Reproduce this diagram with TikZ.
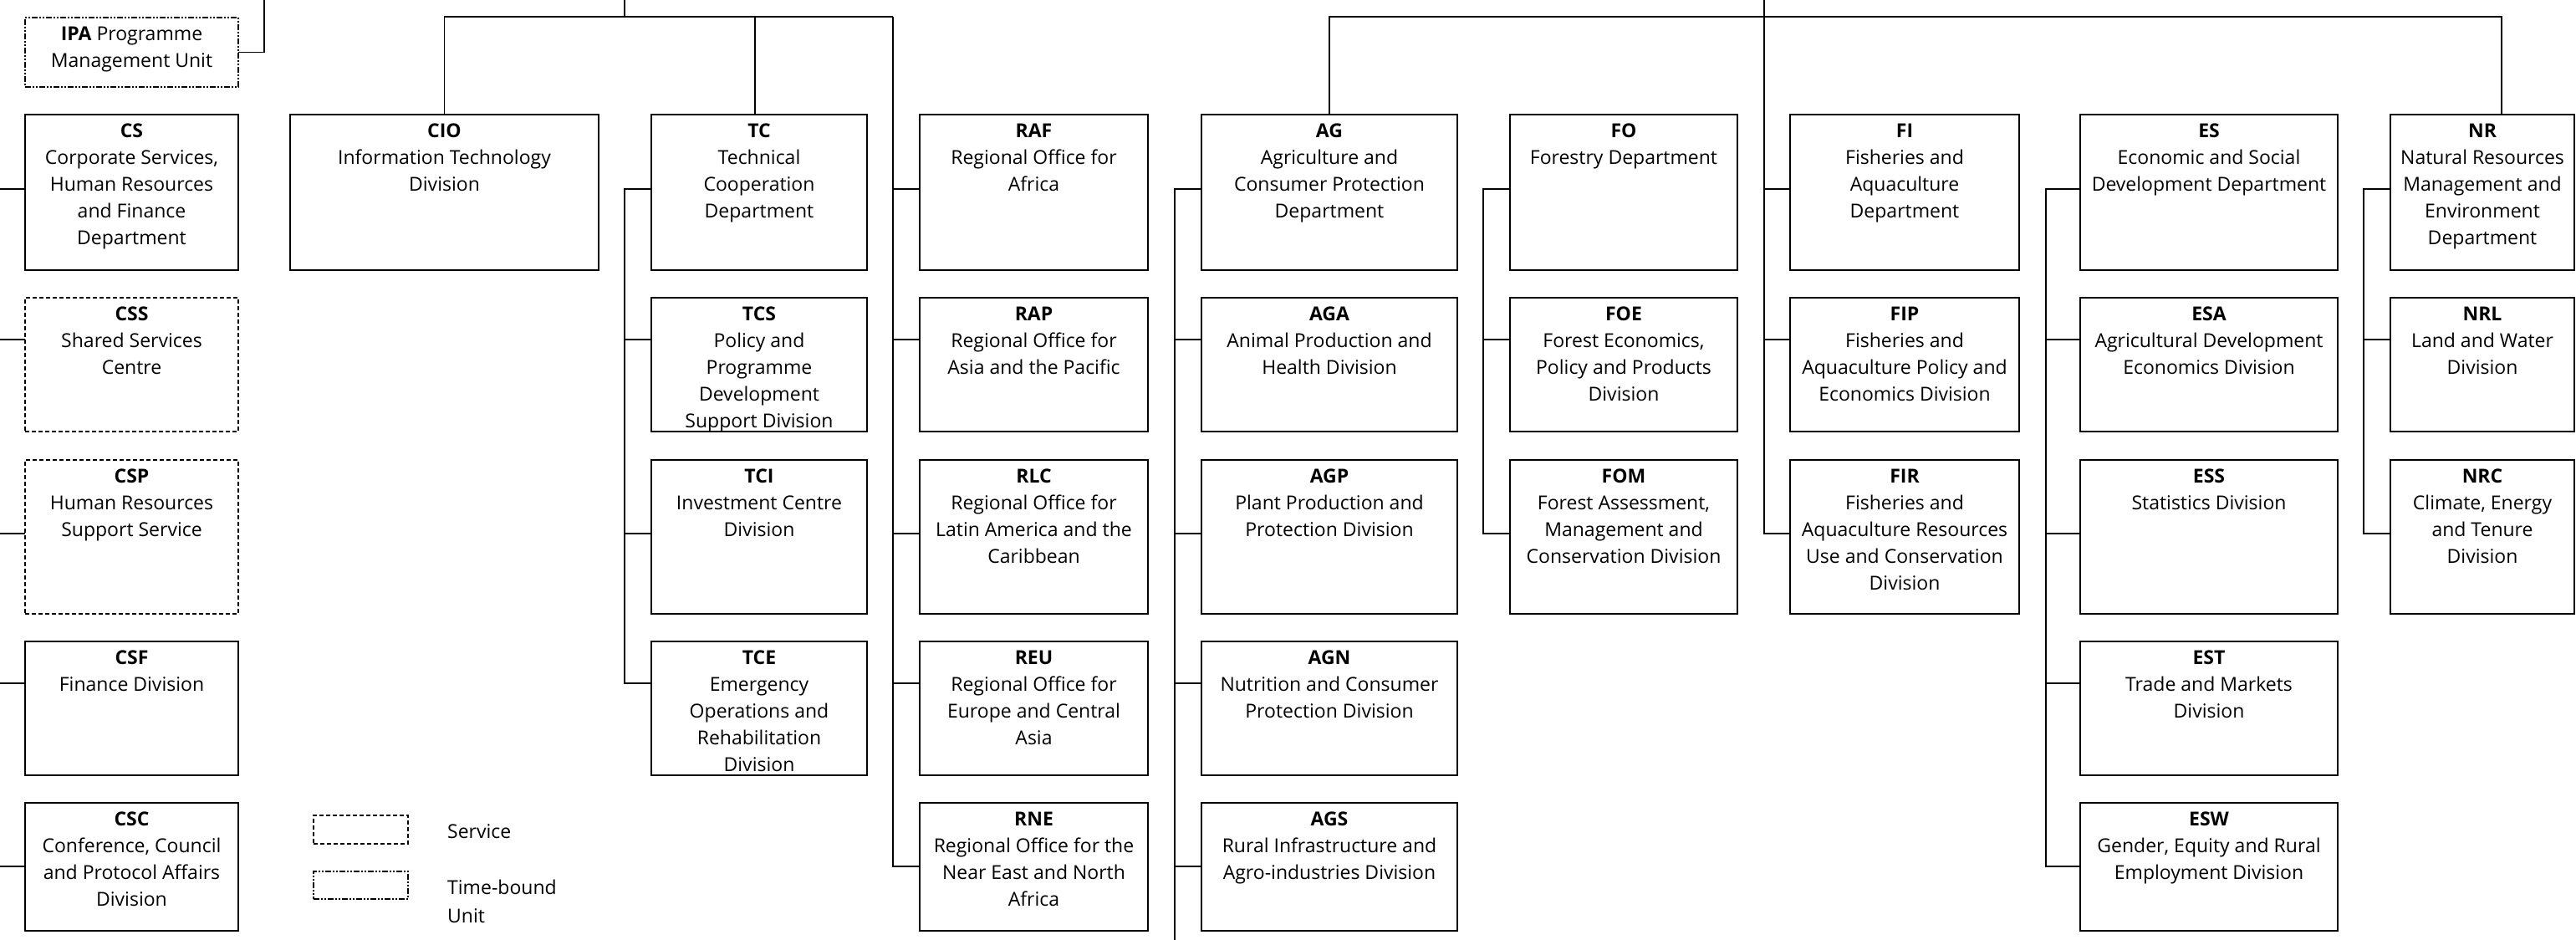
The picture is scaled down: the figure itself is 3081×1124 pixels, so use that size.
\documentclass[tikz,border=0pt]{standalone}
\usepackage{fontspec}
\setmainfont{Open Sans}
\usetikzlibrary{calc}

\begin{document}
\begin{tikzpicture}[x=1pt,y=-1pt]

\tikzstyle{unit} = [draw=black, line width=2.2, anchor=north west,
    inner sep=0, outer sep=0]
\tikzstyle{service} = [unit, dash pattern=on 5pt off 3pt]
\tikzstyle{timebound} = [unit, line width=1.8,
    dash pattern=on 7pt off 2pt on 2pt off 2pt on 2pt off 2pt]
\tikzstyle{txt} = [anchor=north, yshift=-4.6pt, inner sep=0, align=center,
    font=\fontsize{23}{32}\selectfont]
\tikzstyle{rowA} = [minimum height=186]
\tikzstyle{rowB} = [minimum height=160]
\tikzstyle{rowC} = [minimum height=184]
\tikzstyle{rowD} = [minimum height=160]
\tikzstyle{rowE} = [minimum height=153]
\tikzstyle{link} = [line width=2.2]
\tikzstyle{thin link} = [line width=1.3]

\useasboundingbox (0,0) rectangle (3081,1124);

% =========================
% programme management unit
% =========================
\node[timebound, minimum width=255, minimum height=83,
    label={[txt]north:{\strut\textbf{IPA} Programme\\Management Unit}}] (IPA) at (30,21) {};

% =========================
% first row - departments
% =========================
\node[unit, rowA, minimum width=255,
    label={[txt]north:{\strut\textbf{CS}\\Corporate Services,\\Human Resources\\and Finance\\Department}}] (CS) at (30,137) {};
\node[unit, rowA, minimum width=369,
    label={[txt]north:{\strut\textbf{CIO}\\Information Technology\\Division}}] (CIO) at (347,137) {};
\node[unit, rowA, minimum width=258,
    label={[txt]north:{\strut\textbf{TC}\\Technical\\Cooperation\\Department}}] (TC) at (779,137) {};
\node[unit, rowA, minimum width=273,
    label={[txt]north:{\strut\textbf{RAF}\\Regional Office for\\Africa}}] (RAF) at (1100,137) {};
\node[unit, rowA, minimum width=306,
    label={[txt]north:{\strut\textbf{AG}\\Agriculture and\\Consumer Protection\\Department}}] (AG) at (1437,137) {};
\node[unit, rowA, minimum width=272,
    label={[txt]north:{\strut\textbf{FO}\\Forestry Department}}] (FO) at (1806,137) {};
\node[unit, rowA, minimum width=274,
    label={[txt]north:{\strut\textbf{FI}\\Fisheries and\\Aquaculture\\Department}}] (FI) at (2141,137) {};
\node[unit, rowA, minimum width=308,
    label={[txt]north:{\strut\textbf{ES}\\Economic and Social\\Development Department}}] (ES) at (2488,137) {};
\node[unit, rowA, minimum width=220,
    label={[txt]north:{\strut\textbf{NR}\\Natural Resources\\Management and\\Environment\\Department}}] (NR) at (2859,137) {};

% =========================
% second row
% =========================
\node[service, rowB, minimum width=255,
    label={[txt]north:{\strut\textbf{CSS}\\Shared Services\\Centre}}] (CSS) at (30,356) {};
\node[unit, rowB, minimum width=258,
    label={[txt]north:{\strut\textbf{TCS}\\Policy and\\Programme\\Development\\Support Division}}] (TCS) at (779,356) {};
\node[unit, rowB, minimum width=273,
    label={[txt]north:{\strut\textbf{RAP}\\Regional Office for\\Asia and the Pacific}}] (RAP) at (1100,356) {};
\node[unit, rowB, minimum width=306,
    label={[txt]north:{\strut\textbf{AGA}\\Animal Production and\\Health Division}}] (AGA) at (1437,356) {};
\node[unit, rowB, minimum width=272,
    label={[txt]north:{\strut\textbf{FOE}\\Forest Economics,\\Policy and Products\\Division}}] (FOE) at (1806,356) {};
\node[unit, rowB, minimum width=274,
    label={[txt]north:{\strut\textbf{FIP}\\Fisheries and\\Aquaculture Policy and\\Economics Division}}] (FIP) at (2141,356) {};
\node[unit, rowB, minimum width=308,
    label={[txt]north:{\strut\textbf{ESA}\\Agricultural Development\\Economics Division}}] (ESA) at (2488,356) {};
\node[unit, rowB, minimum width=220,
    label={[txt]north:{\strut\textbf{NRL}\\Land and Water\\Division}}] (NRL) at (2859,356) {};

% =========================
% third row
% =========================
\node[service, rowC, minimum width=255,
    label={[txt]north:{\strut\textbf{CSP}\\Human Resources\\Support Service}}] (CSP) at (30,550) {};
\node[unit, rowC, minimum width=258,
    label={[txt]north:{\strut\textbf{TCI}\\Investment Centre\\Division}}] (TCI) at (779,550) {};
\node[unit, rowC, minimum width=273,
    label={[txt]north:{\strut\textbf{RLC}\\Regional Office for\\Latin America and the\\Caribbean}}] (RLC) at (1100,550) {};
\node[unit, rowC, minimum width=306,
    label={[txt]north:{\strut\textbf{AGP}\\Plant Production and\\Protection Division}}] (AGP) at (1437,550) {};
\node[unit, rowC, minimum width=272,
    label={[txt]north:{\strut\textbf{FOM}\\Forest Assessment,\\Management and\\Conservation Division}}] (FOM) at (1806,550) {};
\node[unit, rowC, minimum width=274,
    label={[txt]north:{\strut\textbf{FIR}\\Fisheries and\\Aquaculture Resources\\Use and Conservation\\Division}}] (FIR) at (2141,550) {};
\node[unit, rowC, minimum width=308,
    label={[txt]north:{\strut\textbf{ESS}\\Statistics Division}}] (ESS) at (2488,550) {};
\node[unit, rowC, minimum width=220,
    label={[txt]north:{\strut\textbf{NRC}\\Climate, Energy\\and Tenure\\Division}}] (NRC) at (2859,550) {};

% =========================
% fourth row
% =========================
\node[unit, rowD, minimum width=255,
    label={[txt]north:{\strut\textbf{CSF}\\Finance Division}}] (CSF) at (30,767) {};
\node[unit, rowD, minimum width=258,
    label={[txt]north:{\strut\textbf{TCE}\\Emergency\\Operations and\\Rehabilitation\\Division}}] (TCE) at (779,767) {};
\node[unit, rowD, minimum width=273,
    label={[txt]north:{\strut\textbf{REU}\\Regional Office for\\Europe and Central\\Asia}}] (REU) at (1100,767) {};
\node[unit, rowD, minimum width=306,
    label={[txt]north:{\strut\textbf{AGN}\\Nutrition and Consumer\\Protection Division}}] (AGN) at (1437,767) {};
\node[unit, rowD, minimum width=308,
    label={[txt]north:{\strut\textbf{EST}\\Trade and Markets\\Division}}] (EST) at (2488,767) {};

% =========================
% fifth row
% =========================
\node[unit, rowE, minimum width=255,
    label={[txt]north:{\strut\textbf{CSC}\\Conference, Council\\and Protocol Affairs\\Division}}] (CSC) at (30,960) {};
\node[unit, rowE, minimum width=273,
    label={[txt]north:{\strut\textbf{RNE}\\Regional Office for the\\Near East and North\\Africa}}] (RNE) at (1100,960) {};
\node[unit, rowE, minimum width=306,
    label={[txt]north:{\strut\textbf{AGS}\\Rural Infrastructure and\\Agro-industries Division}}] (AGS) at (1437,960) {};
\node[unit, rowE, minimum width=308,
    label={[txt]north:{\strut\textbf{ESW}\\Gender, Equity and Rural\\Employment Division}}] (ESW) at (2488,960) {};

% =========================
% legend
% =========================
\node[service, minimum width=113, minimum height=34] (keyService) at (375,975) {};
\node[anchor=west, inner sep=0, font=\fontsize{23}{32}\selectfont] (keyServiceText) at (535,994) {Service};
\node[timebound, minimum width=113, minimum height=33] (keyUnit) at (375,1042) {};
\node[anchor=north west, inner sep=0, align=left, font=\fontsize{23}{34}\selectfont] (keyUnitText) at (535,1045) {\strut Time-bound\\Unit};

% =========================
% top connectors
% =========================
\coordinate (topA) at (747,0);
\coordinate (busA) at (1068,20);
\coordinate (topB) at (2110,0);
\coordinate (busB) at (2110,20);
\coordinate (ipaTop) at (316,0);
\coordinate (agEnd) at (1405,1124);

\draw[thin link] (IPA.east) -| (ipaTop);
\draw[thin link] (topA) -- (topA |- busA);
\draw[thin link] (CIO.north) |- (busA);
\draw[thin link] ([xshift=-5]TC.north) -- ([xshift=-5]TC.north |- busA);
\draw[thin link] (busA) -- ($(RAF.north west)+(-32,89)$);
\draw[thin link] (AG.north) |- (busB) -| ([xshift=23]NR.north);
\draw[thin link] (topB) -- ($(FI.north west)+(-31,89)$);

% =========================
% group connectors
% =========================
% corporate services
\draw[link] ($(CS.north west)+(0,89)$) -- ++(-30,0);
\draw[link] ($(CSS.north west)+(0,50)$) -- ++(-30,0);
\draw[link] ($(CSP.north west)+(0,88)$) -- ++(-30,0);
\draw[link] ($(CSF.north west)+(0,50)$) -- ++(-30,0);
\draw[link] ($(CSC.north west)+(0,76)$) -- ++(-30,0);

% technical cooperation
\draw[link] ($(TC.north west)+(0,89)$) -- ++(-32,0) |- ($(TCE.north west)+(0,50)$);
\draw[link] ($(TCS.north west)+(0,50)$) -- ++(-32,0);
\draw[link] ($(TCI.north west)+(0,88)$) -- ++(-32,0);

% regional offices
\draw[link] ($(RAF.north west)+(0,89)$) -- ++(-32,0) |- ($(RNE.north west)+(0,76)$);
\draw[link] ($(RAP.north west)+(0,50)$) -- ++(-32,0);
\draw[link] ($(RLC.north west)+(0,88)$) -- ++(-32,0);
\draw[link] ($(REU.north west)+(0,50)$) -- ++(-32,0);

% agriculture
\draw[link] ($(AG.north west)+(0,89)$) -- ++(-32,0) -- (agEnd);
\draw[link] ($(AGA.north west)+(0,50)$) -- ++(-32,0);
\draw[link] ($(AGP.north west)+(0,88)$) -- ++(-32,0);
\draw[link] ($(AGN.north west)+(0,50)$) -- ++(-32,0);
\draw[link] ($(AGS.north west)+(0,76)$) -- ++(-32,0);

% forestry
\draw[link] ($(FO.north west)+(0,89)$) -- ++(-32,0) |- ($(FOM.north west)+(0,88)$);
\draw[link] ($(FOE.north west)+(0,50)$) -- ++(-32,0);

% fisheries
\draw[link] ($(FI.north west)+(0,89)$) -- ++(-31,0) |- ($(FIR.north west)+(0,88)$);
\draw[link] ($(FIP.north west)+(0,50)$) -- ++(-31,0);

% economic and social
\draw[link] ($(ES.north west)+(0,89)$) -- ++(-41,0) |- ($(ESW.north west)+(0,76)$);
\draw[link] ($(ESA.north west)+(0,50)$) -- ++(-41,0);
\draw[link] ($(ESS.north west)+(0,88)$) -- ++(-41,0);
\draw[link] ($(EST.north west)+(0,50)$) -- ++(-41,0);

% natural resources
\draw[link] ($(NR.north west)+(0,89)$) -- ++(-32,0) |- ($(NRC.north west)+(0,88)$);
\draw[link] ($(NRL.north west)+(0,50)$) -- ++(-32,0);

\end{tikzpicture}
\end{document}
